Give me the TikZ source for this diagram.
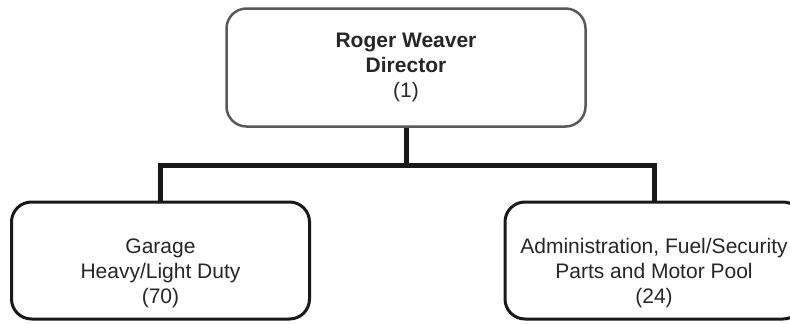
\documentclass[tikz,border=0pt]{standalone}
\usepackage{fontspec}
\setmainfont{Liberation Sans}

\begin{document}
\begin{tikzpicture}[
    x=1pt,y=-1pt,
    head/.style={draw=black!65,line width=2.5pt,rounded corners=20pt,minimum width=359pt,minimum height=118pt,inner sep=0pt,align=center,font=\fontsize{21}{25}\selectfont,text=black!85},
    unit/.style={draw=black!90,line width=3pt,rounded corners=20pt,minimum width=298pt,minimum height=117pt,inner sep=0pt},
    unittext/.style={align=center,font=\fontsize{21}{25}\selectfont,text=black!85},
    link/.style={line width=5pt,black!90}
]
\useasboundingbox (0,0) rectangle (790,324);

% director
\node[head] (director) at (406,67.5) {\textbf{Roger Weaver}\\\textbf{Director}\\(1)};

% two units
\node[unit] (garage) at (160.5,260.5) {};
\node[unit] (admin) at (654,260.5) {};
\node[unittext] (garagelbl) at ([yshift=-13pt]garage.center) {Garage\\Heavy/Light Duty\\(70)};
\node[unittext] (adminlbl) at ([yshift=-13pt]admin.center) {Administration, Fuel/Security\\Parts and Motor Pool\\(24)};

\coordinate (bus) at (406,165);
\draw[link] (director.south) -- (bus);
\draw[link] (garage.north) |- (bus) -| (admin.north);
\end{tikzpicture}
\end{document}
